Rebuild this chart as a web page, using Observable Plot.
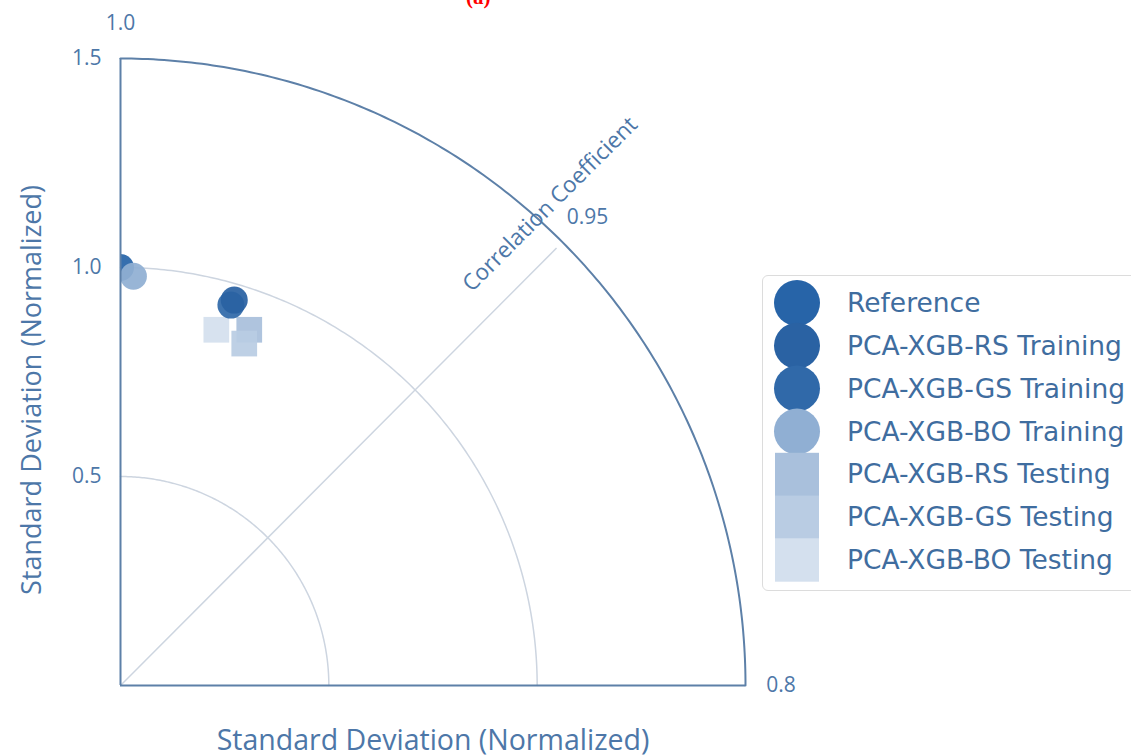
<!DOCTYPE html>
<html>
<head>
<meta charset="utf-8">
<script src="https://cdn.jsdelivr.net/npm/d3@7"></script>
<script src="https://cdn.jsdelivr.net/npm/@observablehq/plot@0.6"></script>
<style>
  html, body { margin: 0; padding: 0; background: #fff; overflow: hidden; }
  #wrap { position: relative; width: 1131px; height: 756px; }
  #title { position: absolute; left: 466px; top: -15px; color: #ff0000; font: bold 21px "Liberation Serif", serif; }
  #legend { position: absolute; left: 762px; top: 275px; width: 420px; height: 314px;
            border: 1.5px solid #dcdcdc; border-radius: 6px; background: #fff; }
</style>
</head>
<body>
<div id="wrap">
  <div id="chart"></div>
  <div id="title">(a)</div>
  <div id="legend"></div>
</div>
<script>
// ---- data ----
const seriesNames = ["Reference", "PCA-XGB-RS Training", "PCA-XGB-GS Training", "PCA-XGB-BO Training",
                     "PCA-XGB-RS Testing", "PCA-XGB-GS Testing", "PCA-XGB-BO Testing"];
const seriesShape = ["circle", "circle", "circle", "circle", "square", "square", "square"];
const seriesColor = ["#2764a8", "#2a62a3", "#3069a9", "#90afd3", "#a9c0dc", "#b9cce3", "#d4e0ee"];
// normalized std-dev components (x = sd*cos, y = sd*sin)
const pointX = [0.0, 0.273, 0.265, 0.031, 0.309, 0.297, 0.230];
const pointY = [1.0, 0.922, 0.910, 0.979, 0.851, 0.818, 0.851];
const sdRings = [0.5, 1.0];
const sdMax = 1.5;
const sdTicks = [0.5, 1.0, 1.5];
const corrTickLabels = ["1.0", "0.95", "0.8"];
const corrTickAngles = [90, 45, 0];

const textColor = "#4d77a8";
const frameColor = "#5d80a8";
const gridColor = "#cdd5e0";

const points = seriesNames.map((name, i) => ({name, shape: seriesShape[i], color: seriesColor[i], x: pointX[i], y: pointY[i],
  size: seriesShape[i] === "square" ? 14.5 : 13.5}));
// draw order: reference first, then testing squares, then training circles on top
const drawOrder = [0, 6, 4, 5, 2, 1, 3].map(i => points[i]);

const rad = d => d * Math.PI / 180;
const arcPts = (r) => d3.range(0, 90.5, 0.5).map(a => ({r, x: r * Math.cos(rad(a)), y: r * Math.sin(rad(a))}));
const rings = sdRings.flatMap(arcPts);
const outer = arcPts(sdMax);
const corrLabels = corrTickLabels.map((t, i) => ({t, x: 1.585 * Math.cos(rad(corrTickAngles[i])), y: 1.585 * Math.sin(rad(corrTickAngles[i]))}));
const diag = [{x1: 0, y1: 0, x2: 1.48 * Math.cos(rad(45)), y2: 1.48 * Math.sin(rad(45))}];

const chart = Plot.plot({
  width: 1131, height: 756,
  marginLeft: 120, marginRight: 386, marginTop: 58, marginBottom: 71,
  x: {domain: [0, 1.5], axis: null},
  y: {domain: [0, 1.5], axis: null},
  r: {type: "identity"},
  style: {fontFamily: "'Open Sans', 'DejaVu Sans', sans-serif", color: textColor, background: "transparent", overflow: "visible"},
  marks: [
    Plot.line(rings, {x: "x", y: "y", z: "r", stroke: gridColor, strokeWidth: 1.5}),
    Plot.link(diag, {x1: "x1", y1: "y1", x2: "x2", y2: "y2", stroke: gridColor, strokeWidth: 1.5}),
    Plot.dot(drawOrder, {x: "x", y: "y", symbol: "shape", fill: "color", r: "size", stroke: "none", fillOpacity: 0.93, clip: true}),
    Plot.line(outer, {x: "x", y: "y", stroke: frameColor, strokeWidth: 2}),
    Plot.ruleX([0], {y1: 0, y2: sdMax, stroke: frameColor, strokeWidth: 2}),
    Plot.ruleY([0], {x1: 0, x2: sdMax, stroke: frameColor, strokeWidth: 2}),
    Plot.axisY(sdTicks, {tickSize: 0, tickPadding: 19, fontSize: 21, tickFormat: d3.format(".1f"), label: null, color: textColor}),
    Plot.text(corrLabels, {x: "x", y: "y", text: "t", fontSize: 21, fill: textColor}),
    Plot.text(["Correlation Coefficient"], {x: [1.031], y: [1.151], text: d => d, rotate: -45, fontSize: 22.5, fill: textColor}),
    Plot.text(["Standard Deviation (Normalized)"], {frameAnchor: "left", textAnchor: "middle", lineAnchor: "middle", rotate: -90, dx: -88, dy: 18, fontSize: 27, fill: textColor}),
    Plot.text(["Standard Deviation (Normalized)"], {frameAnchor: "bottom", textAnchor: "middle", lineAnchor: "middle", dy: 55, fontSize: 28.5, fill: textColor})
  ]
});
document.getElementById("chart").appendChild(chart);

// ---- legend ----
const leg = d3.select("#legend").append("svg").attr("width", 420).attr("height", 314)
  .style("position", "absolute").style("left", "-1.5px").style("top", "-1.5px");
const rowY0 = 28, rowStep = 42.8, mx = 35;
points.forEach((p, i) => {
  const cy = rowY0 + i * rowStep;
  if (p.shape === "circle") {
    leg.append("circle").attr("cx", mx).attr("cy", cy).attr("r", 23).attr("fill", p.color);
  } else {
    leg.append("rect").attr("x", mx - 22).attr("y", cy - rowStep / 2).attr("width", 44).attr("height", rowStep + 0.5).attr("fill", p.color);
  }
});
points.forEach((p, i) => {
  const cy = rowY0 + i * rowStep;
  leg.append("text").attr("x", 85).attr("y", cy).attr("dy", "0.35em")
    .attr("font-family", "'DejaVu Sans', sans-serif").attr("font-size", 26.5).attr("fill", "#3f6d9f").text(p.name);
});
</script>
</body>
</html>
